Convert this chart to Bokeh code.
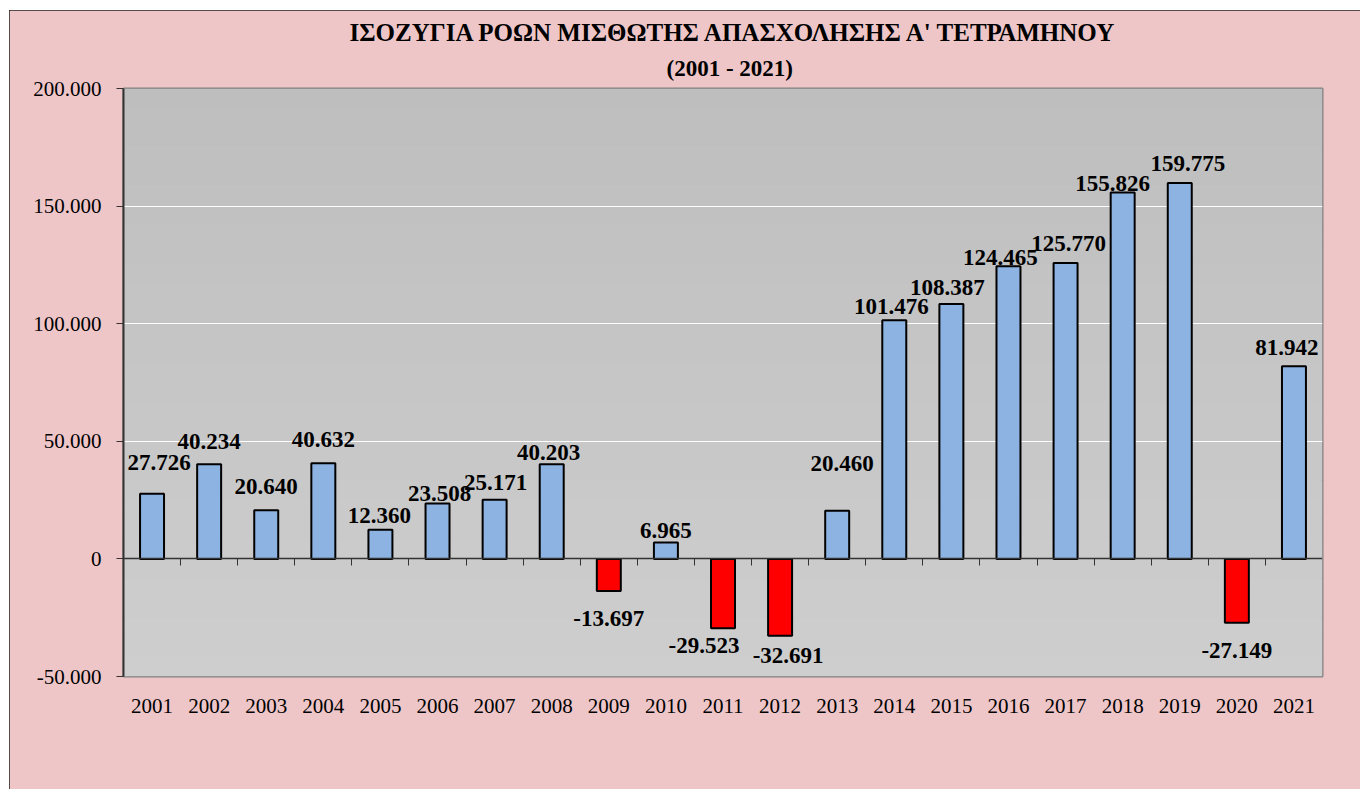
from bokeh.plotting import figure
from bokeh.models import (Range1d, FixedTicker, LinearAxis, Title, BoxAnnotation,
                          ColumnDataSource)
from bokeh.embed import file_html
from bokeh.resources import INLINE

# ---------------- data ----------------
years = [2001, 2002, 2003, 2004, 2005, 2006, 2007, 2008, 2009, 2010, 2011,
         2012, 2013, 2014, 2015, 2016, 2017, 2018, 2019, 2020, 2021]
values = [27726, 40234, 20640, 40632, 12360, 23508, 25171, 40203, -13697, 6965,
          -29523, -32691, 20460, 101476, 108387, 124465, 125770, 155826, 159775,
          -27149, 81942]
y_ticks = [-50000, 0, 50000, 100000, 150000, 200000]
y_tick_labels = ["-50.000", "0", "50.000", "100.000", "150.000", "200.000"]
title_text = "ΙΣΟΖΥΓΙΑ ΡΟΩΝ ΜΙΣΘΩΤΗΣ ΑΠΑΣΧΟΛΗΣΗΣ Α' ΤΕΤΡΑΜΗΝΟΥ"
subtitle_text = "(2001 - 2021)"

# ---------------- style ----------------
FONT = "Liberation Serif"
PINK = "#eec6c8"
BLUE = "#8db3e2"
RED = "#ff0000"
# per-label pixel nudges (label placement as in the original)
label_dx = [7, 0, 0, 0, -1, 2, 1, -3, 0, 0, -19, 8, 5, -3, -4, -8, 3, -10, 8, 0, -7]
label_gap = [31, 23, 24, 24, 14, 10, 17, 12, 27, 12, 17, 20, 47, 14, 16, 9, 20, 9, 20, 28, 19]

labels = [f"{v:,}".replace(",", ".") for v in values]
colors = [BLUE if v >= 0 else RED for v in values]
y_off = [-g if v >= 0 else g for v, g in zip(values, label_gap)]

src = ColumnDataSource(dict(x=years, top=values, color=colors, label=labels,
                            dx=label_dx, dy=y_off))

x0, x1 = years[0] - 0.5, years[-1] + 0.5
y0, y1 = y_ticks[0], y_ticks[-1]

p = figure(width=1351, height=779, output_backend="svg", toolbar_location=None,
           x_range=Range1d(x0, x1), y_range=Range1d(y0, y1),
           min_border_left=114, min_border_top=78, min_border_right=38,
           min_border_bottom=113, title=None)
p.border_fill_color = PINK
p.background_fill_color = "#c6c6c6"
p.outline_line_color = "#808080"
p.outline_line_width = 2
p.styles = {"margin-left": "9px", "margin-top": "10px",
            "outline": "1px solid #222222", "outline-offset": "-1px"}

# gradient of the plot area
n_bands = 30
step = (y1 - y0) / n_bands
for i in range(n_bands):
    t = i / (n_bands - 1)
    g = int(round(206 - (206 - 190) * t))
    p.add_layout(BoxAnnotation(bottom=y0 + i * step, top=y0 + (i + 1) * step,
                               fill_color=(g, g, g), fill_alpha=1.0,
                               line_alpha=0, level="image"))

# grid
p.xgrid.visible = False
p.ygrid.ticker = FixedTicker(ticks=y_ticks)
p.ygrid.grid_line_color = "white"
p.ygrid.grid_line_width = 1

# y axis
p.yaxis.ticker = FixedTicker(ticks=y_ticks)
p.yaxis.major_label_overrides = {t: l for t, l in zip(y_ticks, y_tick_labels)}
p.yaxis.major_label_text_font = FONT
p.yaxis.major_label_text_font_size = "21px"
p.yaxis.major_label_text_color = "black"
p.yaxis.axis_line_color = "#333333"
p.yaxis.axis_line_width = 2
p.yaxis.major_tick_line_color = "#333333"
p.yaxis.major_tick_in = 0
p.yaxis.major_tick_out = 7
p.yaxis.minor_tick_line_color = None
p.yaxis.major_label_standoff = 15

# x axis with year labels at bottom
p.xaxis.ticker = FixedTicker(ticks=years)
p.xaxis.major_label_overrides = {y: str(y) for y in years}
p.xaxis.major_label_text_font = FONT
p.xaxis.major_label_text_font_size = "21px"
p.xaxis.major_label_text_color = "black"
p.xaxis.axis_line_color = None
p.xaxis.major_tick_line_color = None
p.xaxis.minor_tick_line_color = None
p.xaxis.major_label_standoff = 16

# category axis crossing at zero with ticks between categories
bounds = [y + 0.5 for y in years[:-1]]
zero_axis = LinearAxis(fixed_location=0, ticker=FixedTicker(ticks=bounds),
                       axis_line_color="#333333", axis_line_width=1.5,
                       major_tick_line_color="#333333", major_tick_in=0,
                       major_tick_out=7, minor_tick_line_color=None,
                       major_label_overrides={b: "" for b in bounds})
p.add_layout(zero_axis, "below")

# bars
p.vbar(x="x", top="top", bottom=0, width=0.42, source=src, fill_color="color",
       line_color="black", line_width=2)

# data labels
p.text(x="x", y="top", text="label", source=src, x_offset="dx", y_offset="dy",
       text_align="center", text_baseline="middle", text_font=FONT,
       text_font_size="23px", text_font_style="bold", text_color="black")

# titles (sub-title first = closest to the plot)
p.add_layout(Title(text=subtitle_text, align="left", offset=543,
                   text_font=FONT, text_font_size="23px", text_font_style="bold",
                   text_color="black", standoff=16), "above")
p.add_layout(Title(text=title_text, align="left", offset=226,
                   text_font=FONT, text_font_size="25px", text_font_style="bold",
                   text_color="black", standoff=0), "above")

open("out.html", "w").write(file_html(p, INLINE))
